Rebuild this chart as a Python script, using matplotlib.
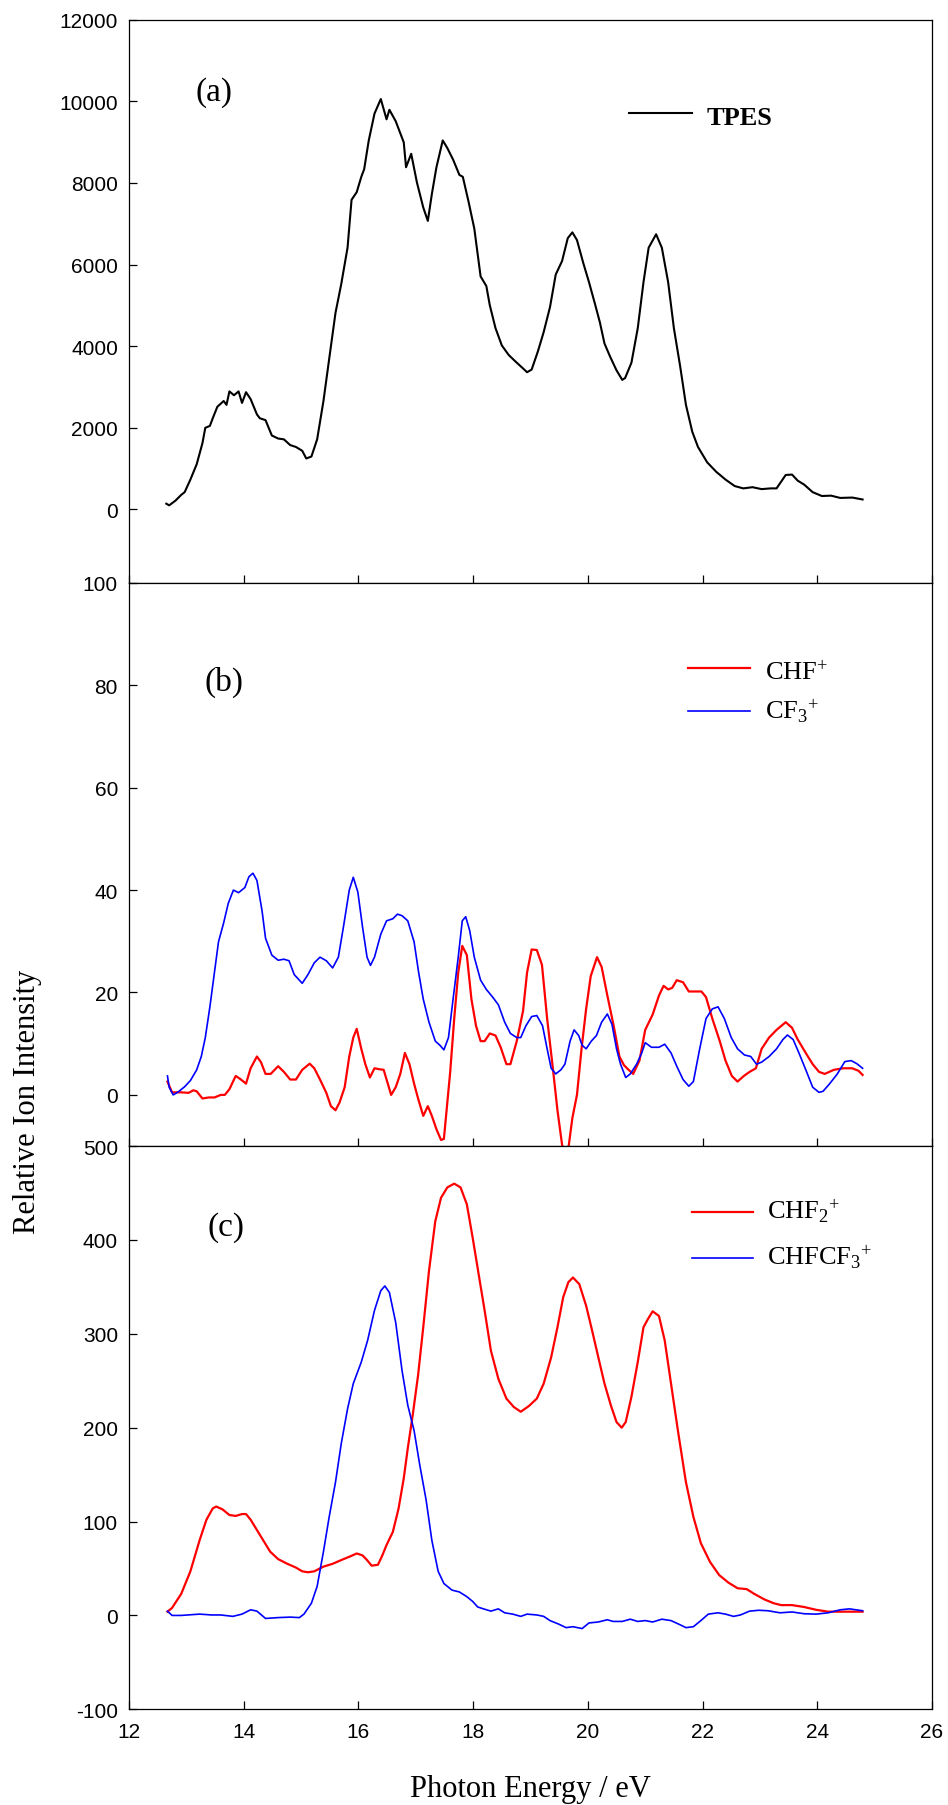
import matplotlib
matplotlib.use('Agg')
from matplotlib import pyplot as plt

plt.rcParams['mathtext.fontset'] = 'custom'
plt.rcParams['mathtext.rm'] = 'Liberation Serif'
plt.rcParams['mathtext.it'] = 'Liberation Serif:italic'
plt.rcParams['axes.unicode_minus'] = False

# (a) TPES
tpes_e = [12.65, 12.70, 12.81, 12.91, 12.97, 13.07, 13.18, 13.28, 13.33, 13.41, 13.46, 13.54,
          13.65, 13.70, 13.75, 13.83, 13.91, 13.97, 14.04, 14.12, 14.23, 14.28, 14.38, 14.49,
          14.60, 14.70, 14.81, 14.91, 15.02, 15.09, 15.18, 15.28, 15.39, 15.49, 15.60, 15.70,
          15.81, 15.88, 15.97, 16.05, 16.10, 16.18, 16.28, 16.39, 16.49, 16.54, 16.65, 16.79,
          16.83, 16.92, 17.02, 17.13, 17.21, 17.28, 17.36, 17.47, 17.55, 17.65, 17.76, 17.82,
          17.92, 18.02, 18.13, 18.23, 18.29, 18.39, 18.50, 18.62, 18.76, 18.87, 18.94, 19.02,
          19.13, 19.23, 19.34, 19.44, 19.55, 19.65, 19.73, 19.81, 19.92, 20.02, 20.13, 20.21,
          20.29, 20.39, 20.50, 20.60, 20.65, 20.76, 20.87, 20.97, 21.06, 21.19, 21.29, 21.40,
          21.50, 21.61, 21.71, 21.82, 21.92, 22.08, 22.24, 22.40, 22.56, 22.71, 22.87, 23.03,
          23.19, 23.29, 23.45, 23.56, 23.66, 23.77, 23.92, 24.08, 24.24, 24.40, 24.61, 24.79]
tpes = [141, 100, 216, 357, 423, 732, 1108, 1624, 2000, 2047, 2235, 2516,
        2657, 2563, 2892, 2798, 2892, 2610, 2873, 2704, 2329, 2235, 2188, 1812,
        1737, 1718, 1577, 1531, 1437, 1249, 1296, 1718, 2657, 3690, 4817, 5521,
        6413, 7587, 7775, 8150, 8338, 9042, 9700, 10056, 9559, 9793, 9512, 8995,
        8385, 8714, 8009, 7399, 7070, 7728, 8385, 9042, 8854, 8573, 8197, 8150,
        7540, 6883, 5709, 5474, 5005, 4441, 4019, 3784, 3596, 3455, 3362, 3427,
        3878, 4347, 4958, 5756, 6085, 6648, 6789, 6601, 6038, 5568, 5005, 4582,
        4066, 3737, 3408, 3174, 3221, 3596, 4441, 5568, 6413, 6742, 6413, 5568,
        4441, 3502, 2563, 1906, 1531, 1155, 920, 732, 573, 516, 545, 498,
        516, 516, 845, 854, 704, 610, 423, 329, 338, 282, 291, 244]

# (b) CHF+ and CF3+
chf_e = [12.67, 12.75, 12.91, 13.04, 13.12, 13.18, 13.28, 13.39, 13.49, 13.60, 13.67, 13.75,
         13.86, 13.94, 14.04, 14.12, 14.23, 14.30, 14.38, 14.47, 14.60, 14.70, 14.81, 14.91,
         15.02, 15.15, 15.23, 15.33, 15.44, 15.52, 15.60, 15.67, 15.76, 15.84, 15.91, 15.97,
         16.05, 16.12, 16.20, 16.28, 16.37, 16.44, 16.49, 16.57, 16.65, 16.73, 16.81, 16.89,
         16.97, 17.04, 17.13, 17.21, 17.28, 17.36, 17.44, 17.49, 17.55, 17.60, 17.67, 17.74,
         17.81, 17.89, 17.97, 18.05, 18.13, 18.20, 18.29, 18.39, 18.48, 18.58, 18.65, 18.76,
         18.87, 18.94, 19.02, 19.11, 19.20, 19.29, 19.39, 19.47, 19.55, 19.60, 19.66, 19.73,
         19.81, 19.89, 19.97, 20.05, 20.16, 20.24, 20.34, 20.45, 20.55, 20.63, 20.71, 20.79,
         20.90, 21.00, 21.13, 21.24, 21.32, 21.40, 21.47, 21.55, 21.66, 21.76, 21.87, 21.98,
         22.06, 22.17, 22.30, 22.40, 22.51, 22.61, 22.72, 22.82, 22.93, 23.03, 23.16, 23.29,
         23.45, 23.56, 23.66, 23.82, 23.92, 24.03, 24.13, 24.29, 24.45, 24.61, 24.72, 24.79]
chf = [2.6, 0.5, 0.5, 0.4, 0.9, 0.7, -0.7, -0.5, -0.5, 0.0, 0.0, 1.1,
       3.7, 3.1, 2.2, 5.2, 7.5, 6.4, 4.1, 4.1, 5.6, 4.5, 3.0, 3.0,
       4.9, 6.1, 5.2, 3.0, 0.4, -2.2, -3.0, -1.5, 1.5, 7.5, 11.2, 12.9,
       9.0, 6.0, 3.4, 5.2, 5.0, 4.9, 3.0, 0.0, 1.5, 4.1, 8.2, 6.0,
       2.2, -0.7, -4.1, -2.2, -4.1, -6.7, -8.8, -8.6, -1.5, 4.5, 14.9, 23.9,
       29.1, 27.3, 18.7, 13.5, 10.5, 10.5, 12.0, 11.6, 9.3, 6.0, 6.0, 10.5,
       16.4, 23.9, 28.4, 28.3, 25.4, 14.9, 5.2, -3.0, -9.7, -12.5, -10.5, -4.5,
       0.0, 9.0, 16.8, 23.2, 26.9, 25.0, 19.4, 13.5, 7.5, 5.8, 4.9, 4.1,
       6.7, 12.7, 15.7, 19.4, 21.3, 20.6, 20.9, 22.4, 22.0, 20.2, 20.2, 20.2,
       19.1, 14.9, 10.5, 6.7, 3.7, 2.6, 3.7, 4.5, 5.2, 9.0, 11.2, 12.7,
       14.2, 13.1, 10.8, 7.8, 6.0, 4.5, 4.1, 4.9, 5.2, 5.2, 4.7, 3.9]

cf3_e = [12.67, 12.70, 12.77, 12.86, 12.97, 13.07, 13.18, 13.26, 13.33, 13.41, 13.49, 13.56,
         13.65, 13.73, 13.82, 13.91, 14.02, 14.09, 14.16, 14.23, 14.32, 14.38, 14.49, 14.60,
         14.70, 14.79, 14.88, 15.02, 15.12, 15.23, 15.33, 15.44, 15.55, 15.65, 15.74, 15.84,
         15.91, 15.99, 16.07, 16.15, 16.21, 16.28, 16.39, 16.49, 16.60, 16.68, 16.76, 16.86,
         16.97, 17.05, 17.13, 17.23, 17.34, 17.42, 17.49, 17.57, 17.65, 17.74, 17.81, 17.87,
         17.94, 18.02, 18.13, 18.23, 18.34, 18.44, 18.55, 18.65, 18.76, 18.83, 18.92, 19.02,
         19.11, 19.21, 19.29, 19.36, 19.44, 19.53, 19.60, 19.69, 19.76, 19.84, 19.90, 19.97,
         20.06, 20.15, 20.24, 20.34, 20.42, 20.50, 20.57, 20.66, 20.74, 20.85, 20.94, 21.00,
         21.11, 21.24, 21.34, 21.45, 21.55, 21.66, 21.76, 21.84, 21.95, 22.06, 22.17, 22.27,
         22.38, 22.50, 22.61, 22.73, 22.84, 22.94, 23.03, 23.16, 23.29, 23.40, 23.48, 23.58,
         23.68, 23.80, 23.92, 24.03, 24.10, 24.21, 24.35, 24.48, 24.59, 24.69, 24.79]
cf3 = [3.7, 1.5, 0.0, 0.6, 1.6, 2.8, 4.9, 7.5, 11.2, 17.2, 23.9, 29.9,
       33.6, 37.4, 40.0, 39.5, 40.5, 42.6, 43.3, 41.9, 35.9, 30.6, 27.3, 26.3,
       26.5, 26.2, 23.5, 21.8, 23.5, 25.8, 26.9, 26.2, 24.8, 26.9, 32.9, 40.0,
       42.5, 39.6, 32.9, 26.9, 25.3, 26.9, 31.4, 34.0, 34.4, 35.3, 35.0, 34.0,
       29.9, 23.9, 18.7, 14.2, 10.5, 9.7, 8.8, 11.2, 18.7, 26.9, 34.0, 34.8,
       32.1, 26.9, 22.4, 20.6, 19.1, 17.6, 14.2, 12.0, 11.2, 11.2, 13.5, 15.3,
       15.5, 13.5, 9.0, 5.2, 4.1, 4.9, 6.0, 10.5, 12.7, 11.6, 9.7, 9.0,
       10.5, 11.6, 14.2, 15.8, 13.8, 9.0, 6.0, 3.4, 4.1, 6.0, 8.2, 10.2,
       9.3, 9.3, 9.9, 8.2, 5.6, 3.0, 1.7, 2.6, 9.0, 14.9, 16.8, 17.2,
       14.9, 11.2, 9.0, 7.8, 7.5, 6.0, 6.4, 7.5, 9.0, 10.8, 11.7, 10.8,
       8.2, 4.9, 1.5, 0.5, 0.7, 2.1, 4.1, 6.5, 6.7, 6.1, 5.2]

# (c) CHF2+ and CHFCF3+
chf2_e = [12.67, 12.75, 12.91, 13.07, 13.23, 13.35, 13.46, 13.52, 13.63, 13.75, 13.86, 13.97,
          14.04, 14.12, 14.23, 14.34, 14.46, 14.60, 14.76, 14.91, 15.02, 15.12, 15.23, 15.39,
          15.55, 15.70, 15.86, 15.97, 16.07, 16.15, 16.23, 16.34, 16.41, 16.49, 16.60, 16.70,
          16.79, 16.86, 16.95, 17.04, 17.13, 17.23, 17.34, 17.44, 17.55, 17.67, 17.78, 17.89,
          17.99, 18.10, 18.20, 18.31, 18.44, 18.58, 18.71, 18.83, 18.97, 19.11, 19.23, 19.36,
          19.47, 19.57, 19.66, 19.74, 19.85, 19.97, 20.08, 20.19, 20.29, 20.40, 20.50, 20.59,
          20.66, 20.76, 20.87, 20.97, 21.05, 21.13, 21.24, 21.34, 21.45, 21.57, 21.71, 21.84,
          21.97, 22.13, 22.29, 22.45, 22.61, 22.77, 22.90, 23.08, 23.24, 23.37, 23.56, 23.77,
          23.98, 24.19, 24.45, 24.79]
chf2 = [4, 8, 23, 47, 80, 102, 114, 116, 113, 107, 106, 108,
        108, 102, 91, 80, 68, 60, 55, 51, 47, 46, 47, 52,
        55, 59, 63, 66, 64, 59, 53, 54, 63, 75, 89, 114,
        146, 178, 215, 256, 307, 367, 420, 445, 456, 460, 456, 438,
        403, 362, 325, 282, 252, 231, 222, 217, 223, 231, 247, 275,
        307, 339, 355, 360, 353, 330, 302, 273, 247, 224, 206, 200,
        206, 233, 270, 307, 316, 324, 319, 293, 247, 197, 142, 105,
        77, 57, 43, 35, 29, 28, 23, 17, 13, 11, 11, 9,
        6, 4, 4, 4]

chfcf3_e = [12.67, 12.75, 12.91, 13.23, 13.44, 13.60, 13.81, 13.97, 14.12, 14.23, 14.38, 14.60,
            14.81, 14.97, 15.05, 15.18, 15.28, 15.39, 15.49, 15.60, 15.70, 15.81, 15.91, 16.05,
            16.16, 16.28, 16.39, 16.46, 16.54, 16.65, 16.76, 16.86, 16.97, 17.07, 17.18, 17.28,
            17.39, 17.49, 17.63, 17.76, 17.89, 17.99, 18.08, 18.18, 18.31, 18.44, 18.55, 18.69,
            18.83, 18.94, 19.11, 19.23, 19.34, 19.49, 19.62, 19.74, 19.90, 20.02, 20.18, 20.34,
            20.44, 20.60, 20.74, 20.87, 21.00, 21.13, 21.29, 21.45, 21.61, 21.71, 21.84, 21.97,
            22.10, 22.27, 22.40, 22.54, 22.66, 22.82, 22.98, 23.14, 23.35, 23.56, 23.77, 23.98,
            24.19, 24.40, 24.56, 24.79]
chfcf3 = [4.6, 0.0, 0.0, 1.4, 0.5, 0.5, -1.0, 1.4, 6.0, 4.6, -3.2, -2.3,
          -1.8, -2.3, 1.4, 13, 31, 68, 105, 142, 183, 220, 247, 270,
          293, 325, 346, 351, 344, 312, 261, 224, 197, 160, 123, 80,
          47, 34, 27, 25, 20, 15, 9, 7, 4.6, 7, 2.8, 1.4,
          -1.0, 1.4, 0.5, -1.0, -5.5, -9.2, -13, -12, -14, -8, -7, -4.6,
          -6.4, -6.4, -4.0, -6.4, -5.5, -7.0, -4.0, -5.5, -10, -13, -12, -5.5,
          1.4, 2.8, 1.4, -1.0, 0.5, 4.6, 5.5, 5.0, 2.8, 3.7, 1.8, 1.4,
          2.8, 6.0, 7.0, 5.0]

sans = ['Liberation Sans', 'DejaVu Sans']
serif = ['Liberation Serif', 'DejaVu Serif']

fig = plt.figure(figsize=(9.48, 18.06), dpi=100)
left, right = 0.1361, 0.9831
top, bottom = 0.98854, 0.05299
h = (top - bottom) / 3
axes = [fig.add_axes([left, top - (i + 1) * h, right - left, h]) for i in range(3)]

for ax in axes:
    ax.set_xlim(12, 26)
    ax.set_xticks(range(12, 27, 2))
    ax.tick_params(direction='in', length=6, width=0.9, pad=8,
                   top=False, right=False, labelsize=15)
    ax.tick_params(axis='x', pad=9)
    for sp in ax.spines.values():
        sp.set_linewidth(0.9)
    for lab in ax.get_xticklabels() + ax.get_yticklabels():
        lab.set_family(sans)

ax_a, ax_b, ax_c = axes

# panel (a)
ax_a.plot(tpes_e, tpes, color='black', lw=1.5)
ax_a.set_ylim(-1800, 12000)
ax_a.set_yticks(range(0, 12001, 2000))
ax_a.tick_params(labelbottom=False)
ax_a.text(0.1059, 0.8725, '(a)', transform=ax_a.transAxes, ha='center', va='center',
          fontsize=24, family=serif)
ax_a.plot([0.6227, 0.7011], [0.8338, 0.8338], color='black', lw=1.5, transform=ax_a.transAxes)
ax_a.text(0.7198, 0.8153, 'TPES', transform=ax_a.transAxes, va='baseline',
          fontsize=19, fontweight='bold', family=serif)

# panel (b)
ax_b.plot(chf_e, chf, color='#ff0000', lw=1.6)
ax_b.plot(cf3_e, cf3, color='#0000ff', lw=1.2)
ax_b.set_ylim(-10, 100)
ax_b.set_yticks(range(0, 101, 20))
ax_b.tick_params(labelbottom=False)
ax_b.text(0.1183, 0.8258, '(b)', transform=ax_b.transAxes, ha='center', va='center',
          fontsize=24, family=serif)
ax_b.plot([0.696, 0.773], [0.8484, 0.8484], color='#ff0000', lw=1.6, transform=ax_b.transAxes)
ax_b.plot([0.696, 0.773], [0.7731, 0.7731], color='#0000ff', lw=1.2, transform=ax_b.transAxes)
ax_b.text(0.792, 0.8281, 'CHF$^{+}$', transform=ax_b.transAxes, va='baseline',
          fontsize=19, family=serif)
ax_b.text(0.792, 0.7600, 'CF$_{3}{}^{+}$', transform=ax_b.transAxes, va='baseline',
          fontsize=19, family=serif)

# panel (c)
ax_c.plot(chf2_e, chf2, color='#ff0000', lw=1.6)
ax_c.plot(chfcf3_e, chfcf3, color='#0000ff', lw=1.2)
ax_c.set_ylim(-100, 500)
ax_c.set_yticks(range(-100, 501, 100))
ax_c.text(0.1208, 0.8564, '(c)', transform=ax_c.transAxes, ha='center', va='center',
          fontsize=24, family=serif)
ax_c.plot([0.7006, 0.7773], [0.8835, 0.8835], color='#ff0000', lw=1.6, transform=ax_c.transAxes)
ax_c.plot([0.7006, 0.7773], [0.8008, 0.8008], color='#0000ff', lw=1.2, transform=ax_c.transAxes)
ax_c.text(0.795, 0.8729, 'CHF$_{2}{}^{+}$', transform=ax_c.transAxes, va='baseline',
          fontsize=19, family=serif)
ax_c.text(0.795, 0.7907, 'CHFCF$_{3}{}^{+}$', transform=ax_c.transAxes, va='baseline',
          fontsize=19, family=serif)

fig.text(28 / 948, 1 - 1102 / 1806, 'Relative Ion Intensity', rotation=90,
         ha='center', va='center', fontsize=22, family=serif)
fig.text(0.5596, 1 - 1797 / 1806, 'Photon Energy / eV', ha='center', va='baseline',
         fontsize=22, family=serif)

fig.savefig('out.png', dpi=100)
